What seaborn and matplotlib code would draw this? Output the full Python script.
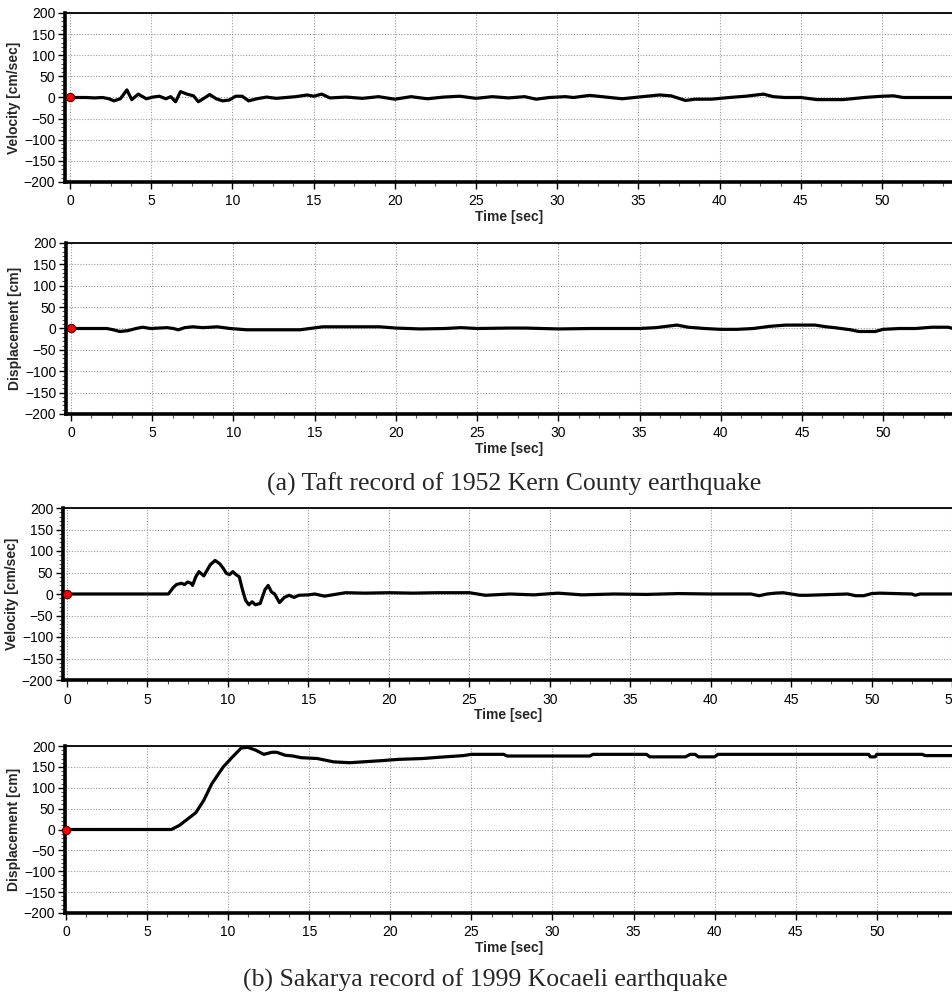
import numpy as np
import pandas as pd
import matplotlib
matplotlib.use("Agg")
import matplotlib.pyplot as plt
from matplotlib.ticker import MultipleLocator
import seaborn as sns

sns.set_style("white")
plt.rcParams['font.family'] = ['Liberation Sans', 'DejaVu Sans']

# ---------------- data ----------------
# (a) Taft record - velocity [cm/sec]
taft_vel_t = [0, 1.0, 1.5, 2.0, 2.4, 2.7, 3.1, 3.5, 3.8, 4.2, 4.7, 5.1, 5.5, 5.9, 6.2, 6.5, 6.8,
              7.2, 7.6, 7.9, 8.2, 8.6, 9.0, 9.4, 9.8, 10.2, 10.6, 11.0, 11.5, 12.1, 12.7, 13.3,
              13.9, 14.6, 15.0, 15.5, 16.0, 17.0, 18.0, 19.0, 20.0, 21.0, 22.0, 23.0, 24.0,
              25.0, 26.0, 27.0, 28.0, 28.7, 29.5, 30.5, 31.0, 32.0, 33.0, 34.0, 35.0, 36.3,
              37.0, 37.9, 38.5, 39.5, 40.6, 41.6, 42.7, 43.3, 44.0, 45.0, 46.0, 47.6, 48.9,
              50.0, 50.7, 51.3, 52.0, 54.3]
taft_vel_v = [0, 0, -1, 0, -3, -8, -3, 18, -5, 8, -3, 1, 3, -3, 2, -10, 14,
              8, 4, -10, -3, 7, -3, -8, -6, 3, 3, -8, -3, 1, -2, 0,
              2, 6, 3, 8, -1, 1, -2, 2, -4, 2, -3, 1, 3,
              -2, 2, -1, 2, -4, 0, 2, 0, 5, 1, -3, 1, 6,
              4, -7, -4, -4, 0, 3, 8, 2, 0, 0, -5, -5, 0,
              3, 4, 0, 0, 0]

# (a) Taft record - displacement [cm]
taft_dis_t = [0, 2.2, 2.6, 3.0, 3.5, 4.0, 4.4, 4.9, 5.9, 6.3, 6.6, 7.0, 7.5, 8.1, 8.6, 9.0,
              9.8, 10.8, 12.5, 14.1, 14.7, 15.5, 17.0, 19.0, 20.0, 21.5, 23.0, 24.0, 25.0,
              27.0, 28.0, 30.0, 32.0, 34.0, 35.0, 36.0, 37.3, 38.0, 39.0, 40.0, 41.0, 42.0,
              43.0, 44.0, 45.8, 46.5, 47.0, 48.0, 48.5, 49.5, 50.0, 51.0, 52.0, 53.0, 54.0,
              54.3]
taft_dis_v = [0, 0, -3, -7, -5, 0, 3, 0, 2, 0, -3, 2, 4, 2, 3, 4,
              0, -3, -3, -3, 0, 4, 4, 4, 1, -1, 0, 2, 0,
              1, 1, -1, 0, 0, 0, 2, 8, 3, 0, -2, -2, 0,
              5, 8, 8, 4, 2, -3, -7, -7, -2, 0, 0, 3, 3,
              0]

# (b) Sakarya record - velocity [cm/sec]
sak_vel_t = [0, 6.3, 6.6, 6.8, 7.1, 7.3, 7.5, 7.7, 7.8, 8.0, 8.2, 8.5, 8.7, 8.9, 9.2, 9.5,
             9.7, 9.9, 10.1, 10.3, 10.5, 10.7, 10.9, 11.1, 11.3, 11.5, 11.7, 12.0, 12.3,
             12.5, 12.7, 12.9, 13.2, 13.5, 13.8, 14.1, 14.4, 15.0, 15.4, 16.0, 17.3,
             18.5, 20.0, 21.5, 23.0, 25.0, 26.0, 27.5, 29.0, 30.5, 32.0, 34.0, 36.0, 38.0,
             40.0, 42.5, 43.0, 43.5, 44.0, 44.5, 45.0, 45.5, 46.0, 48.5, 49.0, 49.5, 50.0,
             50.5, 52.5, 52.7, 53.0, 55.0]
sak_vel_v = [0, 0, 15, 22, 25, 22, 28, 25, 20, 40, 52, 42, 55, 68, 78, 70,
             60, 48, 45, 52, 45, 40, 10, -15, -25, -18, -25, -22, 10,
             20, 5, 0, -20, -8, -3, -8, -3, -2, 0, -5, 3,
             2, 3, 2, 3, 3, -3, 0, -2, 2, -2, 0, -1, 1,
             0, 0, -4, 0, 2, 3, 0, -3, -3, 0, -4, -4, 1,
             2, 0, -3, 0, 0]

# (b) Sakarya record - displacement [cm]
sak_dis_t = [0, 6.5, 7.0, 7.5, 8.0, 8.5, 9.0, 9.7, 10.3, 10.8, 11.2, 11.7, 12.2, 12.7, 13.0,
             13.5, 14.0, 14.5, 15.5, 16.5, 17.5, 19.5, 20.5, 22.0, 23.0, 24.5, 25.0, 27.0,
             27.2, 32.3, 32.5, 35.8, 36.0, 38.2, 38.5, 38.8, 39.0, 40.0, 40.2, 49.5, 49.6,
             49.9, 50.0, 52.8, 53.0, 54.7]
sak_dis_v = [0, 0, 10, 25, 40, 70, 110, 150, 175, 195, 197, 190, 180, 185, 185,
             178, 176, 172, 170, 162, 160, 165, 168, 170, 173, 177, 180, 180,
             176, 176, 180, 180, 174, 174, 180, 180, 174, 174, 180, 180, 174,
             174, 180, 180, 177, 177]

captions = ["(a) Taft record of 1952 Kern County earthquake",
            "(b) Sakarya record of 1999 Kocaeli earthquake"]
ylabels = ["Velocity [cm/sec]", "Displacement [cm]"]
xlabel = "Time [sec]"

# ---------------- figure ----------------
W, H = 953, 1000
fig = plt.figure(figsize=(W / 100, H / 100), dpi=100)

def rect(left_px, top_px, bottom_px):
    return [left_px / W, 1 - bottom_px / H, 1 - left_px / W, (bottom_px - top_px) / H]

panels = [
    (rect(65, 13, 182), taft_vel_t, taft_vel_v, ylabels[0], (-0.31, 54.37)),
    (rect(66, 243, 414), taft_dis_t, taft_dis_v, ylabels[1], (-0.31, 54.3)),
    (rect(63, 508, 680), sak_vel_t, sak_vel_v, ylabels[0], (-0.25, 55.05)),
    (rect(65, 746, 913), sak_dis_t, sak_dis_v, ylabels[1], (-0.06, 54.7)),
]

for r, t, v, ylab, xl in panels:
    ax = fig.add_axes(r)
    df = pd.DataFrame({"t": t, "v": v})
    ax.grid(True, which="major", linestyle=(0, (1, 1.5)), color="#9a9a9a", linewidth=0.8)
    ax.set_axisbelow(True)
    sns.lineplot(data=df, x="t", y="v", ax=ax, color="black", linewidth=2.3,
                 estimator=None, sort=False, zorder=3)
    sns.scatterplot(x=df["t"].iloc[:1], y=df["v"].iloc[:1], ax=ax, color="#ff0000",
                    edgecolor="#550000", linewidth=0.8, s=36, zorder=5, clip_on=False)
    ax.set_xlim(*xl)
    ax.set_ylim(-200, 200)
    ax.set_yticks(np.arange(-200, 201, 50))
    ax.yaxis.set_minor_locator(MultipleLocator(10))
    ax.xaxis.set_major_locator(MultipleLocator(5))
    ax.xaxis.set_minor_locator(MultipleLocator(1.25))
    ax.tick_params(axis="both", which="both", bottom=True, left=True, top=False, right=False)
    ax.tick_params(axis="both", which="major", direction="out", length=5, width=1,
                   labelsize=10, colors="black", pad=2)
    ax.tick_params(axis="both", which="minor", direction="out", length=3, width=0.8,
                   colors="#555555")
    ax.tick_params(axis="x", which="major", pad=4)
    for s in ("left", "bottom"):
        ax.spines[s].set_linewidth(2.6)
        ax.spines[s].set_color("black")
    ax.spines["top"].set_linewidth(1.3)
    ax.spines["top"].set_color("black")
    ax.spines["right"].set_visible(False)
    ax.set_xlabel(xlabel, fontsize=10, fontweight="bold", labelpad=1)
    ax.set_ylabel(ylab, fontsize=10, fontweight="bold", labelpad=2)
    ax.set_facecolor("white")

fig.text(514 / W, 1 - 484 / H, captions[0], ha="center", va="center",
         family=["Liberation Serif", "DejaVu Serif"], fontsize=18.5)
fig.text(485 / W, 1 - 980 / H, captions[1], ha="center", va="center",
         family=["Liberation Serif", "DejaVu Serif"], fontsize=18.5)

fig.savefig("out.png", dpi=100, facecolor="white")
